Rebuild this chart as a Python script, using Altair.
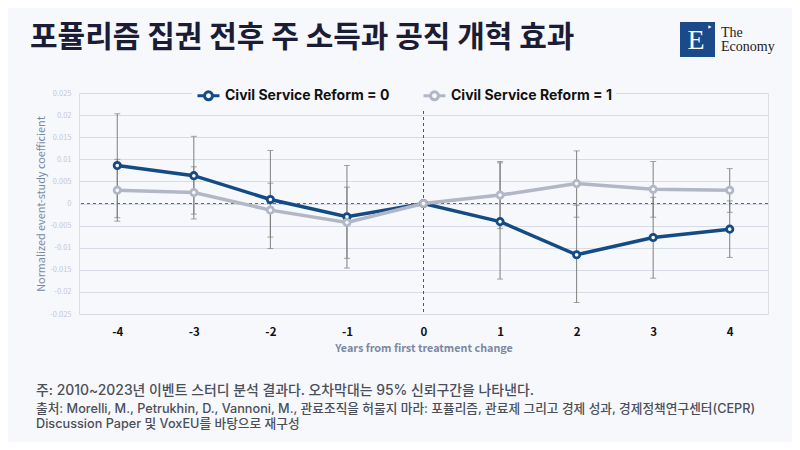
import altair as alt
import pandas as pd

# ---- data ----
periods = [-4, -3, -2, -1, 0, 1, 2, 3, 4]
series_names = ["Civil Service Reform = 0", "Civil Service Reform = 1"]

coef0 = [0.0086, 0.0063, 0.0009, -0.0030, 0.0, -0.0041, -0.0116, -0.0077, -0.0058]
lo0 = [-0.0032, -0.0024, -0.0102, -0.0146, 0.0, -0.0171, -0.0224, -0.0169, -0.0122]
hi0 = [0.0203, 0.0152, 0.0120, 0.0086, 0.0, 0.0092, -0.0004, 0.0014, 0.0006]

coef1 = [0.0030, 0.0025, -0.0015, -0.0043, 0.0, 0.0019, 0.0045, 0.0032, 0.0030]
lo1 = [-0.0040, -0.0035, -0.0076, -0.0124, 0.0, -0.0057, -0.0031, -0.0031, -0.0020]
hi1 = [0.0100, 0.0083, 0.0046, 0.0037, 0.0, 0.0095, 0.0119, 0.0095, 0.0079]

y_ticks = [0.025, 0.02, 0.015, 0.01, 0.005, 0, -0.005, -0.01, -0.015, -0.02, -0.025]

title_text = "포퓰리즘 집권 전후 주 소득과 공직 개혁 효과"
note_lines = [
    "주: 2010~2023년 이벤트 스터디 분석 결과다. 오차막대는 95% 신뢰구간을 나타낸다.",
    "출처: Morelli, M., Petrukhin, D., Vannoni, M., 관료조직을 허물지 마라: 포퓰리즘, 관료제 그리고 경제 성과, 경제정책연구센터(CEPR)",
    "Discussion Paper 및 VoxEU를 바탕으로 재구성",
]

rows = []
for name, c, lo, hi in [(series_names[0], coef0, lo0, hi0), (series_names[1], coef1, lo1, hi1)]:
    for p, v, l, h in zip(periods, c, lo, hi):
        rows.append({"period": p, "series": name, "coef": v, "lo": l, "hi": h})
df = pd.DataFrame(rows)

# ---- styling ----
BG = "#f7f8fc"
BLUE = "#154b84"
GRAY = "#b2b7c6"
FONT = "Noto Sans CJK KR"
MIX = "Inter, Noto Sans CJK KR"
W, H = 689, 221

x_scale = alt.Scale(type="point", padding=0.5, domain=periods)
x_axis = alt.Axis(
    title="Years from first treatment change", labelAngle=0,
    labelFontWeight="bold", labelFontSize=11.5, labelColor="#111111",
    labelPadding=12, domain=False, ticks=False, grid=False,
    titleFontSize=10.8, titleFontWeight="bold", titleColor="#7b88a5",
    titlePadding=5,
)


def xe():
    return alt.X("period:O", scale=x_scale, axis=x_axis)


y_axis = alt.Axis(
    title="Normalized event-study coefficient", values=y_ticks,
    labelExpr="'' + datum.value", labelFontSize=7.5, labelColor="#c3c8d4",
    labelPadding=8, domain=False, ticks=False, grid=True,
    gridColor="#d7dbe5", gridWidth=1, titleFontSize=10.8,
    titleFontWeight="normal", titleColor="#7b88a5", titlePadding=3,
    labelOverlap=False,
)
y_scale = alt.Scale(domain=[-0.025, 0.025], nice=False, zero=False)


def ye(field):
    return alt.Y(field + ":Q", scale=y_scale, axis=y_axis)


legend = alt.Legend(
    orient="none", legendX=113, legendY=-14, direction="horizontal",
    title=None,
    symbolType="M-1,0L-0.36,0M0.36,0L1,0M-0.36,0A0.36,0.36,0,1,1,0.36,0A0.36,0.36,0,1,1,-0.36,0Z",
    symbolSize=484, symbolStrokeWidth=3, symbolFillColor=BG,
    labelFontSize=14, labelFontWeight="bold", labelColor="#111111",
    labelFont="Inter", columnPadding=27, fillColor=BG, padding=4,
    labelOffset=4, labelLimit=300,
)
stroke_enc = alt.Stroke(
    "series:N",
    scale=alt.Scale(domain=series_names, range=[BLUE, GRAY]),
    legend=legend,
)

base = alt.Chart(df)

err = base.transform_filter("datum.lo != datum.hi")
err_rule = err.mark_rule(color="#7f7f7f", strokeWidth=1).encode(
    x=xe(), y=ye("lo"), y2="hi:Q",
)
err_lo = err.mark_tick(color="#7f7f7f", thickness=1, size=6, orient="horizontal").encode(
    x=xe(), y=ye("lo"),
)
err_hi = err.mark_tick(color="#7f7f7f", thickness=1, size=6, orient="horizontal").encode(
    x=xe(), y=ye("hi"),
)

ref = alt.Chart(pd.DataFrame({"period": [0], "coef": [0.0]}))
zero_line = ref.mark_rule(color="#666666", strokeDash=[3, 3], strokeWidth=1).encode(
    y=ye("coef")
)
vert_line = ref.mark_rule(color="#555555", strokeDash=[3, 3], strokeWidth=1).encode(
    x=xe()
)

lines = base.mark_line(strokeWidth=3.5).encode(
    x=xe(), y=ye("coef"), stroke=stroke_enc,
)
points = base.mark_point(
    shape="circle", filled=True, fill=BG, fillOpacity=1, opacity=1,
    strokeWidth=2.8, size=40,
).encode(
    x=xe(), y=ye("coef"), stroke=stroke_enc,
)

dummy = alt.Chart(pd.DataFrame({"a": [0]}))

title_mark = dummy.mark_text(
    text=title_text, font=FONT, fontSize=30, fontWeight="bold",
    color="#1b1c36", align="left", baseline="middle",
).encode(x=alt.value(-49), y=alt.value(-55))

note_marks = [
    dummy.mark_text(
        text=note_lines[0], font=MIX, fontSize=13.9, fontWeight=500,
        color="#4a4f5a", align="left", baseline="middle",
    ).encode(x=alt.value(-43), y=alt.value(298)),
    dummy.mark_text(
        text=note_lines[1], font=MIX, fontSize=12.7, fontWeight=500,
        color="#4a4f5a", align="left", baseline="middle",
    ).encode(x=alt.value(-43), y=alt.value(316)),
    dummy.mark_text(
        text=note_lines[2], font=MIX, fontSize=12.7, fontWeight=500,
        color="#4a4f5a", align="left", baseline="middle",
    ).encode(x=alt.value(-43), y=alt.value(331)),
]

logo_box = dummy.mark_rect(color="#1a4a8a").encode(
    x=alt.value(601), x2=alt.value(636), y=alt.value(-71), y2=alt.value(-36)
)
logo_e = dummy.mark_text(
    text="E", font="Liberation Serif", fontSize=28, color="white",
    align="center", baseline="middle",
).encode(x=alt.value(617), y=alt.value(-52))
logo_tri = dummy.mark_point(
    shape="triangle-right", filled=True, color="white", size=14, opacity=1,
).encode(x=alt.value(631), y=alt.value(-66))
logo_the = dummy.mark_text(
    text="The", font="Liberation Serif", fontSize=14, color="#222222",
    align="left", baseline="middle",
).encode(x=alt.value(642), y=alt.value(-60))
logo_econ = dummy.mark_text(
    text="Economy", font="Liberation Serif", fontSize=14, color="#222222",
    align="left", baseline="middle",
).encode(x=alt.value(642), y=alt.value(-46))

chart = alt.layer(
    err_rule, err_lo, err_hi, zero_line, vert_line, lines, points,
    title_mark, *note_marks, logo_box, logo_e, logo_tri, logo_the, logo_econ,
).properties(
    width=W, height=H,
    autosize=alt.AutoSizeParams(type="none"),
    padding={"left": 71, "top": 85, "right": 24, "bottom": 128},
    background=BG,
).configure_view(stroke=None).configure(font=FONT)

chart.save("out.html", embed_options={"renderer": "svg", "actions": False})
